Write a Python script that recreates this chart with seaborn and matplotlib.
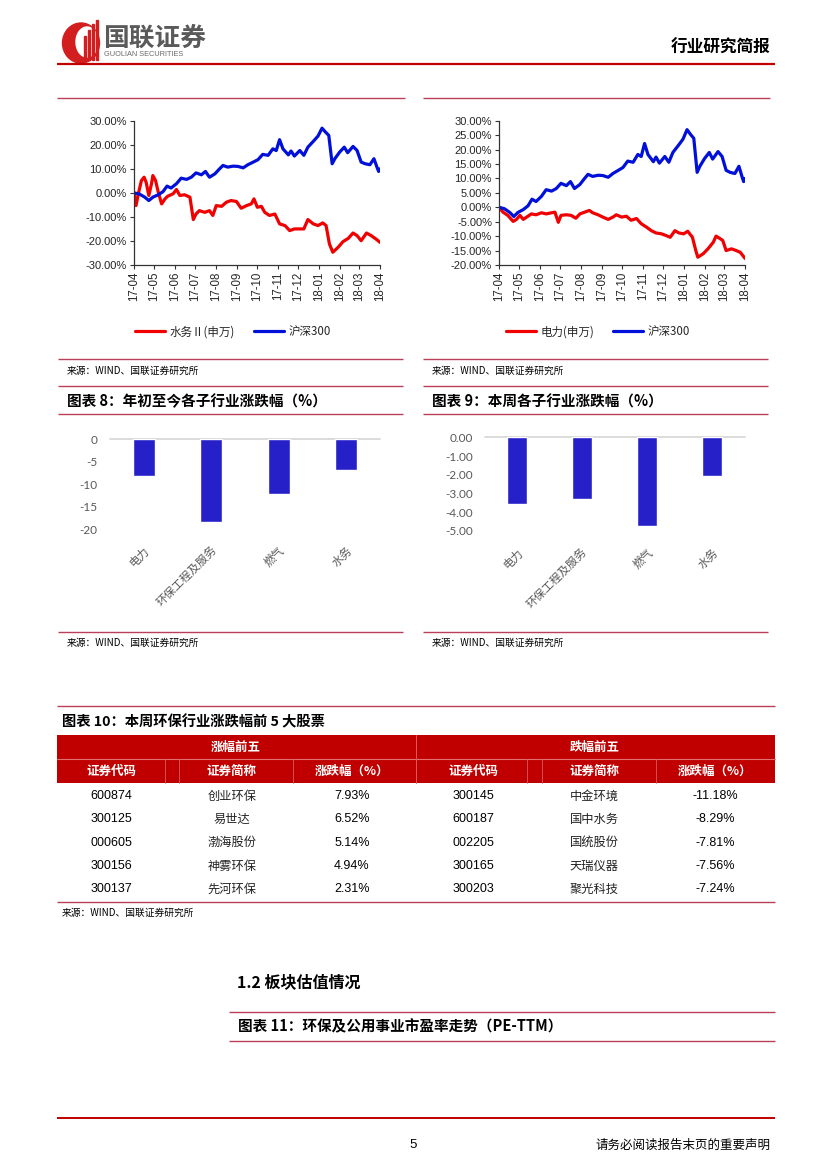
import numpy as np
import pandas as pd
import matplotlib
matplotlib.use("Agg")
import matplotlib.pyplot as plt
import seaborn as sns
from matplotlib.ticker import FuncFormatter, FixedLocator
from matplotlib.patches import Rectangle, Ellipse
from matplotlib.font_manager import FontProperties

# ---------------- data ----------------
month_labels = ['17-04', '17-05', '17-06', '17-07', '17-08', '17-09', '17-10',
                '17-11', '17-12', '18-01', '18-02', '18-03', '18-04']

# CSI 300 (沪深300), cumulative change %, by day offset from 2017-04-01
hs300_day = [0, 8, 16, 22, 28, 36, 43, 49, 55, 63, 70, 78, 85, 92, 100, 106, 112, 120, 127, 132,
             139, 147, 154, 162, 169, 177, 184, 191, 199, 206, 211, 216, 221, 229, 233, 238, 246,
             252, 258, 266, 273, 279, 284, 289, 294, 298, 305, 312, 317, 325, 331, 337, 343, 350,
             356, 361, 363, 365]
hs300_pct = [0.0, -0.5, -1.8, -3.2, -1.8, -0.8, 0.5, 2.8, 2.0, 3.8, 6.1, 5.6, 6.5, 8.3, 7.5, 8.9,
             6.5, 7.9, 10.0, 11.4, 10.7, 11.1, 11.0, 10.4, 11.7, 12.8, 13.8, 16.0, 15.6, 18.3, 17.6,
             22.1, 18.3, 15.8, 17.4, 15.3, 17.6, 15.6, 19.0, 21.4, 23.6, 26.9, 25.3, 23.9, 12.1,
             14.2, 16.9, 19.0, 16.7, 19.3, 17.6, 12.8, 12.1, 11.7, 14.2, 10.3, 8.9, 10.0]

# 水务Ⅱ(申万)
water_day = [0, 3, 7, 11, 15, 18, 22, 26, 28, 32, 36, 41, 46, 50, 58, 63, 68, 75, 83, 88, 92, 97,
             105, 112, 117, 122, 130, 137, 144, 152, 159, 167, 174, 178, 183, 189, 194, 201, 209,
             216, 224, 231, 238, 246, 252, 258, 266, 273, 280, 285, 290, 295, 303, 310, 318, 325,
             331, 337, 345, 352, 360, 365]
water_pct = [0.0, -5.3, 0.3, 5.1, 6.5, 4.4, -1.1, 3.8, 7.2, 5.1, 0.3, -4.6, -2.5, -1.4, -0.4, 1.4,
             -1.1, -0.8, -1.8, -11.1, -8.8, -7.4, -8.1, -7.4, -9.4, -5.3, -5.6, -3.9, -3.2, -3.6,
             -6.4, -5.3, -4.6, -2.5, -6.0, -5.6, -8.1, -9.4, -8.8, -12.9, -13.6, -15.7, -15.0,
             -15.0, -15.0, -11.1, -12.9, -13.6, -12.5, -13.6, -21.3, -24.7, -22.6, -20.3, -18.9,
             -16.7, -17.8, -19.9, -16.7, -17.8, -19.4, -20.6]

# 电力(申万)
power_day = [0, 6, 13, 21, 26, 31, 36, 41, 48, 55, 63, 70, 78, 83, 88, 92, 100, 107, 114, 120, 127,
             134, 139, 147, 154, 162, 169, 174, 182, 189, 196, 204, 211, 219, 226, 233, 241, 248,
             254, 261, 267, 274, 280, 287, 292, 295, 303, 310, 318, 322, 327, 332, 337, 345, 352,
             358, 365]
power_pct = [0.0, -1.7, -2.8, -4.9, -4.2, -2.8, -4.2, -3.4, -2.3, -2.6, -1.9, -2.3, -1.9, -1.7,
             -5.2, -2.8, -2.6, -2.8, -3.8, -2.3, -1.7, -1.1, -1.9, -2.6, -3.4, -4.2, -3.4, -2.6,
             -3.4, -3.1, -4.5, -3.9, -5.7, -6.9, -8.1, -8.9, -9.2, -9.8, -10.4, -8.1, -8.9, -9.2,
             -8.3, -10.4, -15.0, -17.3, -16.1, -14.4, -12.1, -10.0, -10.7, -11.5, -15.0, -14.4,
             -15.0, -15.6, -17.7]

sub_industries = ['电力', '环保工程及服务', '燃气', '水务']
ytd_change = [-8.2, -18.4, -12.3, -6.8]
week_change = [-3.56, -3.31, -4.73, -2.07]

gain_codes = ['600874', '300125', '000605', '300156', '300137']
gain_names = ['创业环保', '易世达', '渤海股份', '神雾环保', '先河环保']
gain_pcts = ['7.93%', '6.52%', '5.14%', '4.94%', '2.31%']
loss_codes = ['300145', '600187', '002205', '300165', '300203']
loss_names = ['中金环境', '国中水务', '国统股份', '天瑞仪器', '聚光科技']
loss_pcts = ['-11.18%', '-8.29%', '-7.81%', '-7.56%', '-7.24%']

# ---------------- style ----------------
sns.set_theme(style="white")
CJK = ['Noto Sans CJK SC', 'DejaVu Sans']
LAT = ['Liberation Sans', 'DejaVu Sans']
plt.rcParams['font.family'] = CJK
plt.rcParams['axes.unicode_minus'] = False

W, H = 827, 1169
fig = plt.figure(figsize=(W / 100, H / 100), dpi=100)
bg = fig.add_axes([0, 0, 1, 1])
bg.set_xlim(0, W)
bg.set_ylim(H, 0)
bg.axis('off')
bg.set_zorder(-5)

RULE = '#B8405A'
RED = '#C00000'


def rect(x0, y0, x1, y1):
    return [x0 / W, 1 - y1 / H, (x1 - x0) / W, (y1 - y0) / H]


def hline(x0, x1, y, color=RULE, lw=1.0):
    bg.plot([x0, x1], [y, y], color=color, lw=lw, solid_capstyle='butt')


def txt(x, y, s, size=8, ha='left', va='center', weight='normal', color='black', family=CJK, **kw):
    bg.text(x, y, s, fontsize=size, ha=ha, va=va, fontweight=weight, color=color, family=family, **kw)


# ---------------- header ----------------
bg.add_patch(Ellipse((81, 43), 37, 40, color='#D21E1E'))
bg.add_patch(Ellipse((87, 42), 22, 30, color='white'))
for bx, top in [(84, 36), (88, 30), (92, 24), (96, 20)]:
    bg.add_patch(Rectangle((bx, top), 2.2, 60 - top, color='#D21E1E'))
txt(103, 38, '国联证券', size=18.5, weight='bold', color='#5a5a5a')
txt(104, 54.5, 'GUOLIAN SECURITIES', size=5.3, color='#6a6a6a', family=LAT)
txt(770, 48, '行业研究简报', size=12, ha='right', weight='bold')
hline(57, 775, 64, color=RED, lw=1.6)

# ---------------- line charts ----------------
start = pd.Timestamp('2017-04-01')
month_ticks = pd.date_range('2017-04-01', '2018-04-01', freq='MS')


def line_panel(box, series, ylim, ystep, legend_cx):
    ax = fig.add_axes(rect(*box))
    for days, vals, color, label in series:
        dates = start + pd.to_timedelta(days, unit='D')
        sns.lineplot(x=dates, y=vals, ax=ax, color=color, lw=2.3, label=label, estimator=None)
    ax.set_xlim(month_ticks[0], month_ticks[-1])
    ax.set_ylim(*ylim)
    ax.yaxis.set_major_locator(FixedLocator(np.arange(ylim[0], ylim[1] + 0.01, ystep)))
    ax.yaxis.set_major_formatter(FuncFormatter(lambda v, p: f"{v:.2f}%"))
    ax.set_xticks(month_ticks)
    ax.set_xticklabels(month_labels, rotation=90)
    ax.set_xlabel('')
    ax.set_ylabel('')
    for s in ['top', 'right']:
        ax.spines[s].set_visible(False)
    for s in ['left', 'bottom']:
        ax.spines[s].set_color('#333333')
        ax.spines[s].set_linewidth(0.9)
    ax.tick_params(axis='both', direction='out', length=3, width=0.8, color='#333333',
                   pad=2, left=True, bottom=True)
    ax.tick_params(axis='y', labelsize=8)
    ax.tick_params(axis='x', labelsize=8.3)
    for lab in ax.get_xticklabels() + ax.get_yticklabels():
        lab.set_family(LAT)
    h, l = ax.get_legend_handles_labels()
    ax.legend(h, l, loc='center', bbox_to_anchor=(legend_cx / W, 1 - 332 / H),
              bbox_transform=fig.transFigure, ncol=2, frameon=False,
              prop=FontProperties(family=CJK, size=8.3), handlelength=2.6,
              handletextpad=0.4, columnspacing=1.6)
    return ax


line_panel((134, 120.7, 380, 265),
           [(water_day, water_pct, '#F00000', '水务Ⅱ(申万)'),
            (hs300_day, hs300_pct, '#0010D8', '沪深300')],
           (-30, 30), 10, 233)
line_panel((499, 120.7, 745, 265),
           [(power_day, power_pct, '#F00000', '电力(申万)'),
            (hs300_day, hs300_pct, '#0010D8', '沪深300')],
           (-20, 30), 5, 598)

# ---------------- rules & captions for chart blocks ----------------
hline(57, 405, 98)
hline(423, 770, 98)
for y in [359.3, 386, 414, 631.7]:
    hline(58, 403, y)
    hline(423, 768, y)
src = '来源：WIND、国联证券研究所'
for x in [67, 432]:
    txt(x, 370.7, src, size=7)
    txt(x, 643, src, size=7)
txt(67, 401.5, '图表 8：年初至今各子行业涨跌幅（%）', size=10.5, weight='bold')
txt(432, 401.5, '图表 9：本周各子行业涨跌幅（%）', size=10.5, weight='bold')

# ---------------- bar charts ----------------
BAR = '#2620C8'


def bar_panel(box, values, yticks, fmt, ypad):
    ax = fig.add_axes(rect(*box))
    sns.barplot(x=sub_industries, y=values, ax=ax, color=BAR, saturation=1, width=0.32)
    ax.set_xlim(-0.5, 3.5)
    ax.set_ylim(min(yticks), 0)
    ax.axhline(0, color='#D9D9D9', lw=1.3, zorder=0, clip_on=False)
    ax.yaxis.set_major_locator(FixedLocator(yticks))
    ax.yaxis.set_major_formatter(FuncFormatter(fmt))
    for s in ax.spines.values():
        s.set_visible(False)
    ax.set_xticks(range(len(sub_industries)))
    ax.set_xticklabels(sub_industries, rotation=45, ha='right', rotation_mode='anchor')
    ax.tick_params(axis='x', length=0, pad=11, labelsize=8.2, colors='#595959')
    ax.tick_params(axis='y', length=0, pad=ypad, labelsize=8.5, colors='#595959')
    for lab in ax.get_yticklabels():
        lab.set_family(['Lato', 'DejaVu Sans'])
    for lab in ax.get_xticklabels():
        lab.set_family(CJK)
    ax.set_xlabel('')
    ax.set_ylabel('')
    ax.set_facecolor('none')
    return ax


bar_panel((110, 439.3, 380, 529), ytd_change, [0, -5, -10, -15, -20],
          lambda v, p: f"{int(round(v))}", 9)
bar_panel((484.5, 437.3, 744.5, 531), week_change, [0, -1, -2, -3, -4, -5],
          lambda v, p: f"{v:.2f}", 8)

# ---------------- table ----------------
hline(57, 775, 705.7)
txt(62, 722.5, '图表 10：本周环保行业涨跌幅前 5 大股票', size=10.3, weight='bold')
bg.add_patch(Rectangle((57, 735), 718, 48, color=RED, lw=0))
bg.plot([57, 775], [759, 759], color='#E27070', lw=0.8)
for x in [165, 179, 293, 527, 542, 656]:
    bg.plot([x, x], [759, 783], color='#D65C5C', lw=0.6)
bg.plot([415.5, 415.5], [735, 783], color='#D65C5C', lw=0.7)
txt(236, 747.5, '涨幅前五', size=9, ha='center', weight='bold', color='white')
txt(595, 747.5, '跌幅前五', size=9, ha='center', weight='bold', color='white')
col_x = [111.7, 231.7, 352, 473, 594, 715]
heads = ['证券代码', '证券简称', '涨跌幅（%）'] * 2
for x, hd in zip(col_x, heads):
    txt(x, 771, hd, size=9, ha='center', weight='bold', color='white')
row_y = [796, 819.3, 842.7, 866, 889.5]
for i, y in enumerate(row_y):
    txt(col_x[0], y, gain_codes[i], size=9, ha='center', family=LAT)
    txt(col_x[1], y, gain_names[i], size=8.8, ha='center', color='#222222')
    txt(col_x[2], y, gain_pcts[i], size=9, ha='center', family=LAT)
    txt(col_x[3], y, loss_codes[i], size=9, ha='center', family=LAT)
    txt(col_x[4], y, loss_names[i], size=8.8, ha='center', color='#222222')
    txt(col_x[5], y, loss_pcts[i], size=9, ha='center', family=LAT)
hline(57, 775, 901.7)
txt(62, 913, src, size=7)

# ---------------- section 1.2 ----------------
txt(237, 982.5, '1.2 板块估值情况', size=11.5, weight='bold')
hline(229, 775, 1012)
txt(238, 1026.7, '图表 11：环保及公用事业市盈率走势（PE-TTM）', size=10.5, weight='bold')
hline(229, 775, 1041)

# ---------------- footer ----------------
hline(57, 775, 1118, color=RED, lw=1.4)
txt(413, 1145, '5', size=9.5, ha='center', family=LAT)
txt(770, 1145, '请务必阅读报告末页的重要声明', size=9, ha='right')

fig.savefig('out.png', dpi=100)
